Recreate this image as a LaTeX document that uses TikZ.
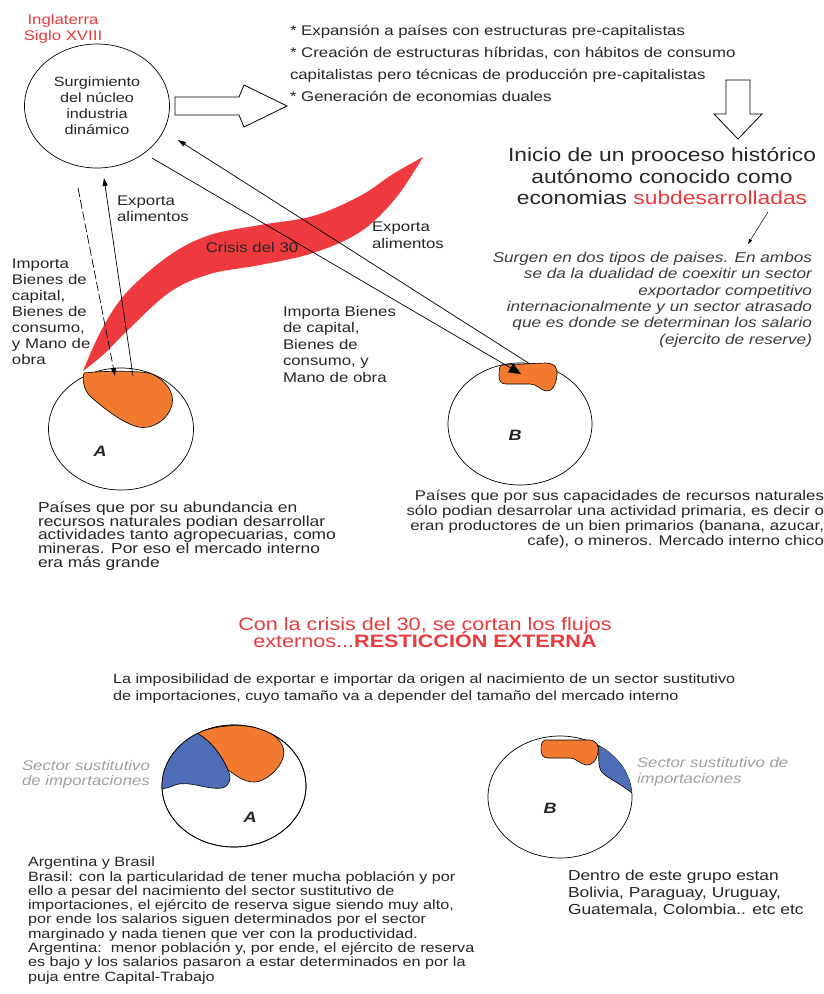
\documentclass[tikz,border=0pt]{standalone}
\usepackage{fontspec}
\setmainfont{Liberation Sans}[FakeStretch=1.2]
\usetikzlibrary{shapes.geometric}
\usetikzlibrary{arrows.meta}
\lineskiplimit=-100pt

\definecolor{crisisred}{HTML}{EE3A3F}
\definecolor{titlered}{HTML}{EA3A3E}
\definecolor{sectororange}{HTML}{F17A30}
\definecolor{sectorblue}{HTML}{4E6DB7}
\definecolor{notegray}{HTML}{A0A0A0}
\definecolor{textgray}{HTML}{3C3C3C}

\begin{document}
\begin{tikzpicture}[x=1pt, y=-1pt, > = {Triangle[length=8pt, width=5pt]},
  every node/.style={inner sep=0pt, outer sep=0pt, text=black!85},
  pais/.style={ellipse, draw, line width=0.7pt, minimum width=145pt, minimum height=122pt},
  blob/.style={fill=sectororange, draw=black, line width=0.6pt},
  sustituto/.style={fill=sectorblue, draw=black, line width=0.6pt},
  blockarrow/.style={draw, fill=white, line width=0.8pt},
  note/.style={font=\fontsize{14}{16}\selectfont, align=left, anchor=north west},
  ]

	\path[use as bounding box, fill=white] (0,0) rectangle (823,994);

	% England
	\node[font=\fontsize{14}{16}\selectfont, text=titlered, align=center, anchor=north] (siglo) at (63,14) {Inglaterra\\Siglo XVIII};
	\node[pais, minimum height=124pt, align=center, font=\fontsize{13.5}{16}\selectfont] (nucleo) at (97,106) {Surgimiento\\del núcleo\\industria\\dinámico};

	\draw[blockarrow] (175,97) -- (239,97) -- (244,85) -- (287,106) -- (244,127) -- (239,115) -- (175,115) -- cycle; % to the right
	\node[font=\fontsize{14}{22}\selectfont, align=left, anchor=north west] (efectos) at (290,25) {* Expansión a países con estructuras pre-capitalistas\\{}* Creación de estructuras híbridas, con hábitos de consumo\\capitalistas pero técnicas de producción pre-capitalistas\\{}* Generación de economias duales};
	\draw[blockarrow] (726,80) -- (750,80) -- (750,114) -- (762,114) -- (738,139) -- (714,114) -- (726,114) -- cycle; % down

	\node[font=\fontsize{19}{21.5}\selectfont, align=center, anchor=north] (inicio) at (662,148) {Inicio de un prooceso histórico\\autónomo conocido como\\economias \textcolor{titlered}{subdesarrolladas}};
	\coordinate (pointer start) at (768,212);
	\coordinate (pointer end) at (748,244);
	\draw[->, >={Triangle[length=5pt, width=3pt]}, line width=0.5pt] (pointer start) -- (pointer end);
	\node[font=\fontsize{14.3}{16.4}\itshape\selectfont, text=textgray, align=right, anchor=north east] (surgen) at (812,252) {Surgen en dos tipos de paises. En ambos\\se da la dualidad de coexitir un sector\\exportador competitivo\\internacionalmente y un sector atrasado\\que es donde se determinan los salario\\(ejercito de reserve)};

	% top countries
	\node[pais] (paisA) at (121,429) {};
	\node[pais, minimum width=144pt] (paisB) at (520,424) {};
	\draw[blob] (84,373) .. controls (100,371) and (140,370) .. (152,374) .. controls (165,380) and (175,392) .. (172,405) .. controls (168,420) and (152,430) .. (138,427) .. controls (120,422) and (100,405) .. (90,396) .. controls (84,390) and (82,380) .. (84,373) -- cycle;
	\draw[blob] (502,365) -- (545,363) .. controls (555,363) and (558,368) .. (557,375) .. controls (556,385) and (552,392) .. (546,391) .. controls (540,390) and (537,384) .. (530,384) -- (506,384) .. controls (500,384) and (499,380) .. (499,375) .. controls (499,368) and (500,365) .. (502,365) -- cycle;
	\node[font=\fontsize{15}{15}\bfseries\itshape\selectfont] (letraA) at (100,451) {A};
	\node[font=\fontsize{15}{15}\bfseries\itshape\selectfont] (letraB) at (515,435) {B};

	\node[note] (importaA) at (12,259) {Importa\\Bienes de\\capital,\\Bienes de\\consumo,\\y Mano de\\obra};
	\node[note] (exportaA) at (117,196) {Exporta\\alimentos};
	\node[note, font=\fontsize{14}{17}\selectfont] (exportaB) at (372,222) {Exporta\\alimentos};
	\node[note, font=\fontsize{14}{16.5}\selectfont] (importaB) at (283,306) {Importa Bienes\\de capital,\\Bienes de\\consumo, y\\Mano de obra};

	% crisis del 30
	\fill[crisisred] plot[smooth, tension=0.6] coordinates {(83,371) (102,329) (127,292) (170,255) (210,235) (260,225) (313,216) (360,196) (393,174) (423,157)} -- plot[smooth, tension=0.6] coordinates {(423,157) (395,199) (360,232) (313,253) (260,265) (210,274) (170,292) (130,328) (104,354) (83,371)} -- cycle;
	\node[font=\fontsize{14}{14}\selectfont] (crisis) at (252,247) {Crisis del 30};

	\coordinate (impA start) at (78,188);
	\coordinate (impA end) at (115,376);
	\coordinate (expA start) at (133,376);
	\coordinate (expA end) at (104,178);
	\coordinate (impB start) at (152,158);
	\coordinate (impB end) at (521,374);
	\coordinate (expB start) at (530,364);
	\coordinate (expB end) at (178,140);
	\draw[->, line width=0.7pt, dash pattern=on 9pt off 3pt] (impA start) -- (impA end);
	\draw[->, line width=0.7pt] (expA start) -- (expA end);
	\draw[-{Triangle[length=12pt, width=10pt]}, line width=0.7pt] (impB start) -- (impB end);
	\draw[->, line width=0.7pt] (expB start) -- (expB end);

	\node[font=\fontsize{14.5}{13.6}\selectfont, align=left, anchor=north west] (textoA) at (38,502) {Países que por su abundancia en\\recursos naturales podian desarrollar\\actividades tanto agropecuarias, como\\mineras. Por eso el mercado interno\\era más grande};
	\node[font=\fontsize{14}{15}\selectfont, align=right, anchor=north east] (textoB) at (824,490) {Países que por sus capacidades de recursos naturales\\sólo podian desarrolar una actividad primaria, es decir o\\eran productores de un bien primarios (banana, azucar,\\cafe), o mineros. Mercado interno chico};

	% after the crisis
	\node[font=\fontsize{18}{17.5}\selectfont, text=titlered, align=center, anchor=north] (restriccion) at (425,617) {Con la crisis del 30, se cortan los flujos\\externos...\textbf{RESTICCIÓN EXTERNA}};
	\node[font=\fontsize{13.5}{17}\selectfont, align=left, anchor=north west] (imposibilidad) at (113,674) {La imposibilidad de exportar e importar da origen al nacimiento de un sector sustitutivo\\de importaciones, cuyo tamaño va a depender del tamaño del mercado interno};

	\node[pais, minimum width=144pt] (paisA2) at (234,786) {};
	\begin{scope}
		\clip (234,786) ellipse [x radius=72, y radius=61];
		\draw[sustituto] (197,733) .. controls (210,740) and (222,755) .. (228,770) .. controls (232,778) and (230,786) .. (222,788) .. controls (205,790) and (190,780) .. (175,785) .. controls (168,788) and (160,790) .. (150,790) -- (150,720) -- cycle;
		\draw[blob] (197,733) .. controls (210,727) and (240,722) .. (262,729) .. controls (278,735) and (287,747) .. (283,758) .. controls (279,770) and (265,782) .. (254,782) .. controls (243,782) and (236,775) .. (228,770) .. controls (222,755) and (210,740) .. (197,733) -- cycle;
	\end{scope}
	\draw[line width=0.7pt] (paisA2.center) ellipse [x radius=72, y radius=61];
	\node[font=\fontsize{15}{15}\bfseries\itshape\selectfont] (letraA2) at (250,817) {A};

	\node[pais, minimum width=144pt] (paisB2) at (560,797) {};
	\begin{scope}
		\clip (560,797) ellipse [x radius=72, y radius=61];
		\draw[sustituto] (598,747) -- (615,740) -- (645,790) -- (632,793) .. controls (618,782) and (605,777) .. (601,771) .. controls (597,763) and (600,755) .. (598,747) -- cycle;
	\end{scope}
	\draw[blob] (545,740) -- (590,740) .. controls (597,741) and (599,746) .. (598,752) .. controls (597,760) and (592,766) .. (586,765) .. controls (580,764) and (576,758) .. (570,758) -- (548,758) .. controls (543,758) and (541,754) .. (541,750) .. controls (541,744) and (542,741) .. (545,740) -- cycle;
	\node[font=\fontsize{15}{15}\bfseries\itshape\selectfont] (letraB2) at (550,808) {B};

	\node[font=\fontsize{14}{15}\itshape\selectfont, text=notegray, align=left, anchor=north west] (sustitutoA) at (22,760) {Sector sustitutivo\\de importaciones};
	\node[font=\fontsize{14}{16}\itshape\selectfont, text=notegray, align=left, anchor=north west] (sustitutoB) at (637,757) {Sector sustitutivo de\\importaciones};

	\node[font=\fontsize{13.5}{14.3}\selectfont, align=left, anchor=north west] (argentina) at (28,857) {Argentina y Brasil\\Brasil: con la particularidad de tener mucha población y por\\ello a pesar del nacimiento del sector sustitutivo de\\importaciones, el ejército de reserva sigue siendo muy alto,\\por ende los salarios siguen determinados por el sector\\marginado y nada tienen que ver con la productividad.\\Argentina:\ \ menor población y, por ende, el ejército de reserva\\es bajo y los salarios pasaron a estar determinados en por la\\puja entre Capital-Trabajo};
	\node[font=\fontsize{14.5}{17}\selectfont, align=left, anchor=north west] (grupo) at (568,870) {Dentro de este grupo estan\\Bolivia, Paraguay, Uruguay,\\Guatemala, Colombia.. etc etc};

\end{tikzpicture}
\end{document}
